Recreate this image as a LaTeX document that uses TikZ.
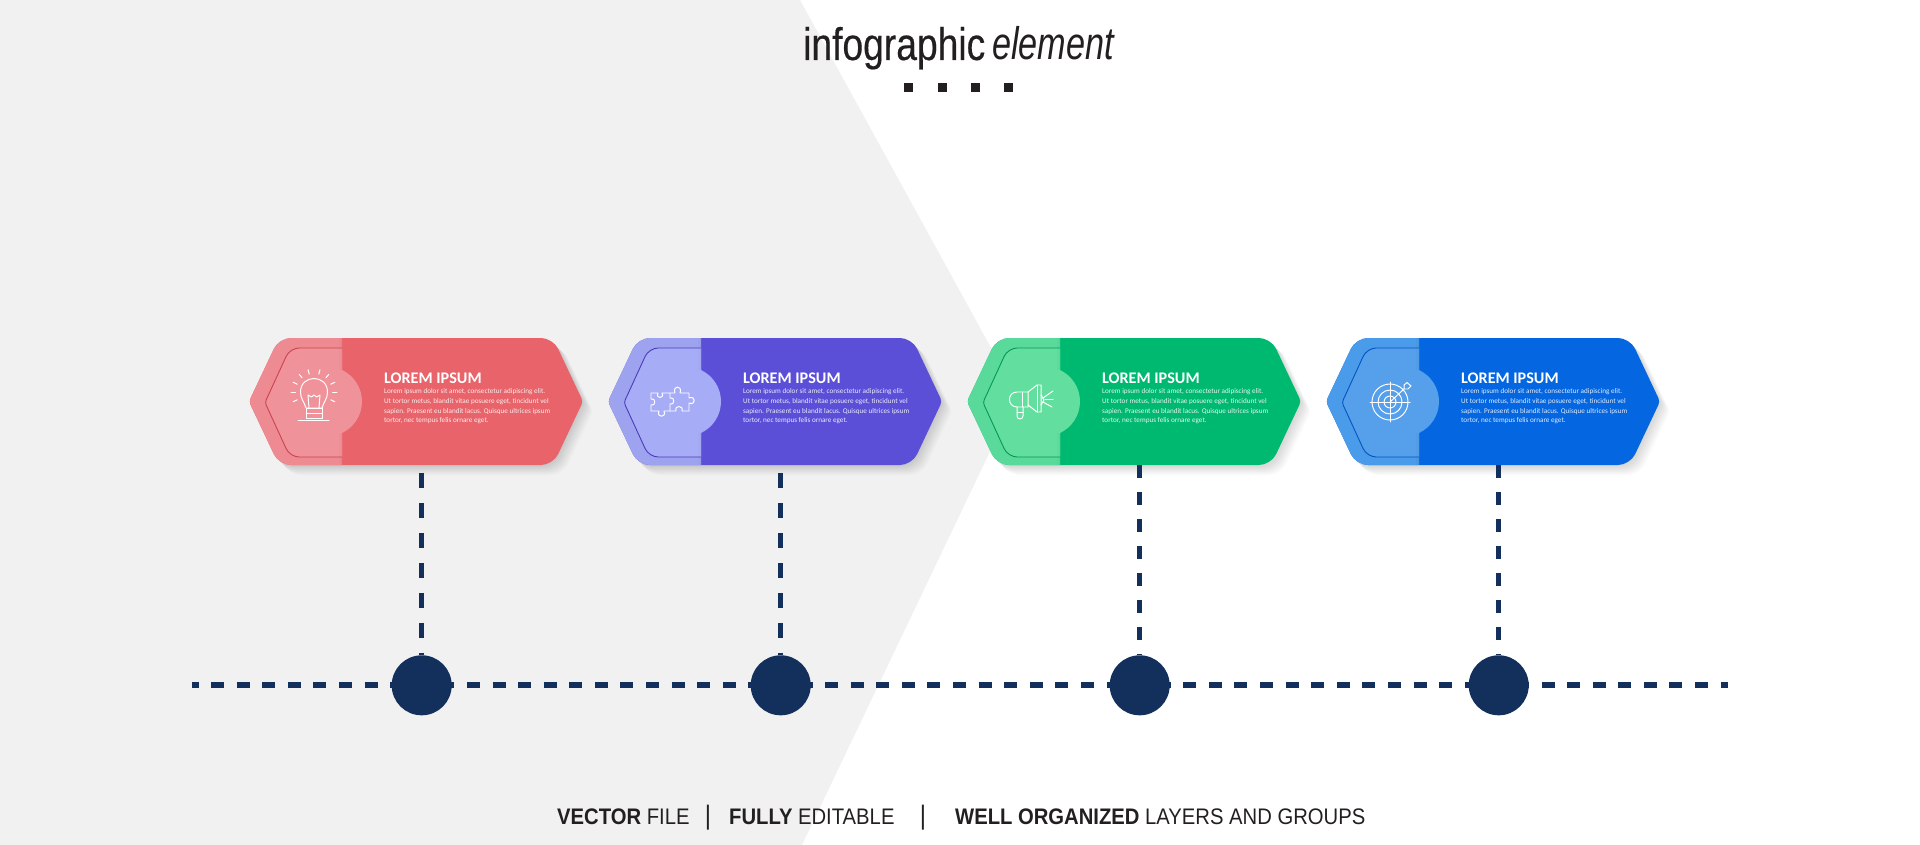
\documentclass[tikz,border=0pt]{standalone}
\usepackage{fontspec}
\setmainfont{Liberation Sans}
\newfontfamily\headfont[FakeStretch=0.815,FakeBold=0.35]{Liberation Sans}
\newfontfamily\elemfont[FakeStretch=0.75]{Liberation Sans}
\newfontfamily\footfont[FakeStretch=0.9]{Liberation Sans}
\newfontfamily\cardfont{Carlito}

\definecolor{bggray}{HTML}{F1F1F1}
\definecolor{navy}{HTML}{132F5C}
\definecolor{inkdark}{HTML}{231F20}
\definecolor{darkA}{HTML}{E8636A}
\definecolor{lightA}{HTML}{EE8A92}
\definecolor{innerA}{HTML}{F0929A}
\definecolor{rimA}{HTML}{C9454F}
\definecolor{darkB}{HTML}{5B4FD8}
\definecolor{lightB}{HTML}{9EA3F0}
\definecolor{innerB}{HTML}{A7ACF6}
\definecolor{rimB}{HTML}{4A3DB8}
\definecolor{darkC}{HTML}{00B971}
\definecolor{lightC}{HTML}{5ADA9A}
\definecolor{innerC}{HTML}{62DE9F}
\definecolor{rimC}{HTML}{079659}
\definecolor{darkD}{HTML}{0466E0}
\definecolor{lightD}{HTML}{4A9BE9}
\definecolor{innerD}{HTML}{559FEB}
\definecolor{rimD}{HTML}{0555C0}

\newcommand{\bodylines}{Lorem ipsum dolor sit amet, consectetur adipiscing elit.\\
    Ut tortor metus, blandit vitae posuere eget, tincidunt vel\\
    sapien. Praesent eu blandit lacus. Quisque ultrices ipsum\\
    tortor, nec tempus felis ornare eget.}

\tikzset{
    hexpath/.style={insert path={
        (416,338) [rounded corners=17pt] -- (553,338) [rounded corners=5pt] -- (583,401.5)
        [rounded corners=17pt] -- (553,465) -- (279,465) [rounded corners=5pt] -- (249,401.5)
        [rounded corners=17pt] -- (279,338) -- cycle}},
    leftpath/.style={insert path={
        (342,338) [rounded corners=17pt] -- (279,338) [rounded corners=5pt] -- (249,401.5)
        [rounded corners=17pt] -- (279,465) [sharp corners] -- (342,465) -- cycle}},
    innerpath/.style={insert path={
        (342,348) [rounded corners=13pt] -- (290,348) [rounded corners=4pt] -- (265,402.5)
        [rounded corners=13pt] -- (290,457) [sharp corners] -- (342,457)}}
}

\begin{document}
\begin{tikzpicture}[
                x=0.05cm, y=-0.05cm,
                titletext/.style={anchor=base west, inner sep=0pt, text=white, font=\cardfont\bfseries\fontsize{23}{23}\selectfont},
                bodytext/.style={anchor=north west, inner sep=0pt, align=left, text=white, text opacity=0.88, font=\cardfont\fontsize{10.2}{13.8}\selectfont},
                foottext/.style={anchor=base west, inner sep=0pt, text=inkdark, font=\footfont\fontsize{32}{32}\selectfont},
                footbar/.style={anchor=base, inner sep=0pt, text=inkdark, font=\footfont\fontsize{38}{38}\selectfont},
                icon/.style={draw=white, line width=1.4pt, line join=round, line cap=round},
                timeline/.style={navy, line width=8.5pt, dash pattern=on 18.5pt off 17.9pt, dash phase=9.25pt},
                stemline/.style={navy, line width=7.8pt, dash pattern=on #1pt off #1pt},
                navydot/.style={circle, fill=navy, inner sep=0pt, minimum size=85.4pt}
            ]
            \useasboundingbox (0,0) rectangle (1920,845);

            % grey arrow behind everything
            \fill[bggray] (0,0) -- (800,0) -- (1017,395) -- (802,845) -- (0,845) -- cycle;

            % heading
            \node[anchor=base west, inner sep=0pt, text=inkdark, font=\headfont\fontsize{65}{65}\selectfont] (headA) at (803,60) {infographic};
            \node[anchor=base west, inner sep=0pt, text=inkdark, font=\elemfont\itshape\fontsize{65}{65}\selectfont] (headB) at (992,60) {element};
            \foreach \x in {904, 938, 971, 1004} {
                    \fill[inkdark] (\x,83) rectangle (\x+9,92);
                }

            \coordinate (lineL) at (192,685.3);
            \coordinate (lineR) at (1728,685.3);
            \draw[timeline] (lineL) -- (lineR);

            \foreach \i/\dx/\ys/\da in {A/0/473/21.3, B/359/473/21.3, C/718/465/19.2, D/1077/465/19.2} {
                    \begin{scope}[shift={(\dx,0)}]
                        % soft shadow
                        \foreach \s in {1,...,10} {
                                \fill[black, opacity=0.016, shift={(\s,\s)}, hexpath];
                            }
                        \fill[dark\i, hexpath];
                        \fill[light\i, leftpath];
                        \fill[inner\i, innerpath];
                        \foreach \w in {1.5,3} {
                                \fill[black, opacity=0.014] (342-\w,338) rectangle (342,370);
                                \fill[black, opacity=0.014] (342-\w,433) rectangle (342,465);
                            }
                        \fill[inner\i] (342,370) .. controls (354.2,375.8) and (362,388) .. (362,401.5)
                        .. controls (362,415) and (354.2,427.2) .. (342,433) -- cycle;
                        \draw[rim\i, line width=1.3pt, innerpath];

                        \node[titletext] (title\i) at (384,383.3) {LOREM IPSUM};
                        \node[bodytext] (body\i) at (384,388.5) {\bodylines};

                        \coordinate (stem\i) at (421.7,\ys);
                        \node[navydot] (dot\i) at (421.7,685.3) {};
                        \draw[stemline=\da] (stem\i) -- (dot\i);
                    \end{scope}
                }

            % bulb
            \draw[icon] (306,408) .. controls (304,401) and (300.5,399) .. (300.5,392)
            .. controls (300.5,374) and (327.5,374) .. (327.5,392)
            .. controls (327.5,399) and (324,401) .. (322,408) -- cycle;
            \draw[icon] (309,408) -- (308,395) -- (311.5,397) -- (314,395) -- (316.5,397) -- (320,395) -- (319,408);
            \draw[icon] (306,408) rectangle (322,413);
            \draw[icon] (306,413) rectangle (322,418);
            \draw[icon] (298,420) -- (329,420);
            \foreach \a in {-205,-180,-155,-130,-105,-75,-50,-25,0,25} {
                    \draw[icon] (314,392) ++(\a:18.5) -- ++(\a:4.5);
                }

            % puzzle
            \draw[icon] (651,393) -- (658,393) .. controls (655,399) and (665,399) .. (662,393) -- (670,393)
            -- (670,398) .. controls (675,396) and (675,406) .. (670,404) -- (670,411)
            -- (664,411) .. controls (667,418) and (656,418) .. (659,411) -- (651,411)
            -- (651,405) .. controls (656,407) and (656,397) .. (651,399) -- cycle;
            \draw[icon] (670,393) -- (675,393) .. controls (672,385) and (683,385) .. (680,393) -- (689,393)
            -- (689,398) .. controls (696,395) and (696,406) .. (689,403) -- (689,411)
            -- (682,411) .. controls (684,405) and (674,405) .. (676,411) -- (670,411);

            % megaphone
            \draw[icon] (1028,392) -- (1037,385) -- (1041,385) -- (1041,412) -- (1037,412) -- (1028,405) -- cycle;
            \draw[icon] (1037,385) -- (1037,412);
            \draw[icon] (1028,392) -- (1017,392) .. controls (1007,392) and (1007,407) .. (1017,407) -- (1028,407) -- (1028,405);
            \draw[icon] (1022,392) -- (1022,407);
            \draw[icon] (1017,407) -- (1017,416) .. controls (1017,420) and (1023,420) .. (1023,416) -- (1023,407);
            \draw[icon] (1017,412) -- (1023,412);
            \draw[icon] (1041,395) -- (1044,400) -- (1041,405);
            \draw[icon] (1043,398) -- (1053,391);
            \draw[icon] (1045,399.5) -- (1053,399.5);
            \draw[icon] (1043,402) -- (1052,407);

            % target
            \foreach \r in {18,12,6} {
                    \draw[icon] (1390,402) circle [radius=\r];
                }
            \draw[icon] (1370,402) -- (1410,402);
            \draw[icon] (1390,382) -- (1390,422);
            \draw[icon] (1390,402) -- (1404,389);
            \draw[icon] (1404,389) -- (1404,385) -- (1407,382.5) -- (1411,386) -- (1408,389) -- cycle;

            % footer
            \node[foottext] (footA) at (557,824) {\textbf{VECTOR} FILE};
            \node[footbar] (barA) at (708,824.5) {|};
            \node[foottext] (footB) at (729,824) {\textbf{FULLY} EDITABLE};
            \node[footbar] (barB) at (923,824.5) {|};
            \node[foottext] (footC) at (955,824) {\textbf{WELL ORGANIZED} LAYERS AND GROUPS};

        \end{tikzpicture}
\end{document}
